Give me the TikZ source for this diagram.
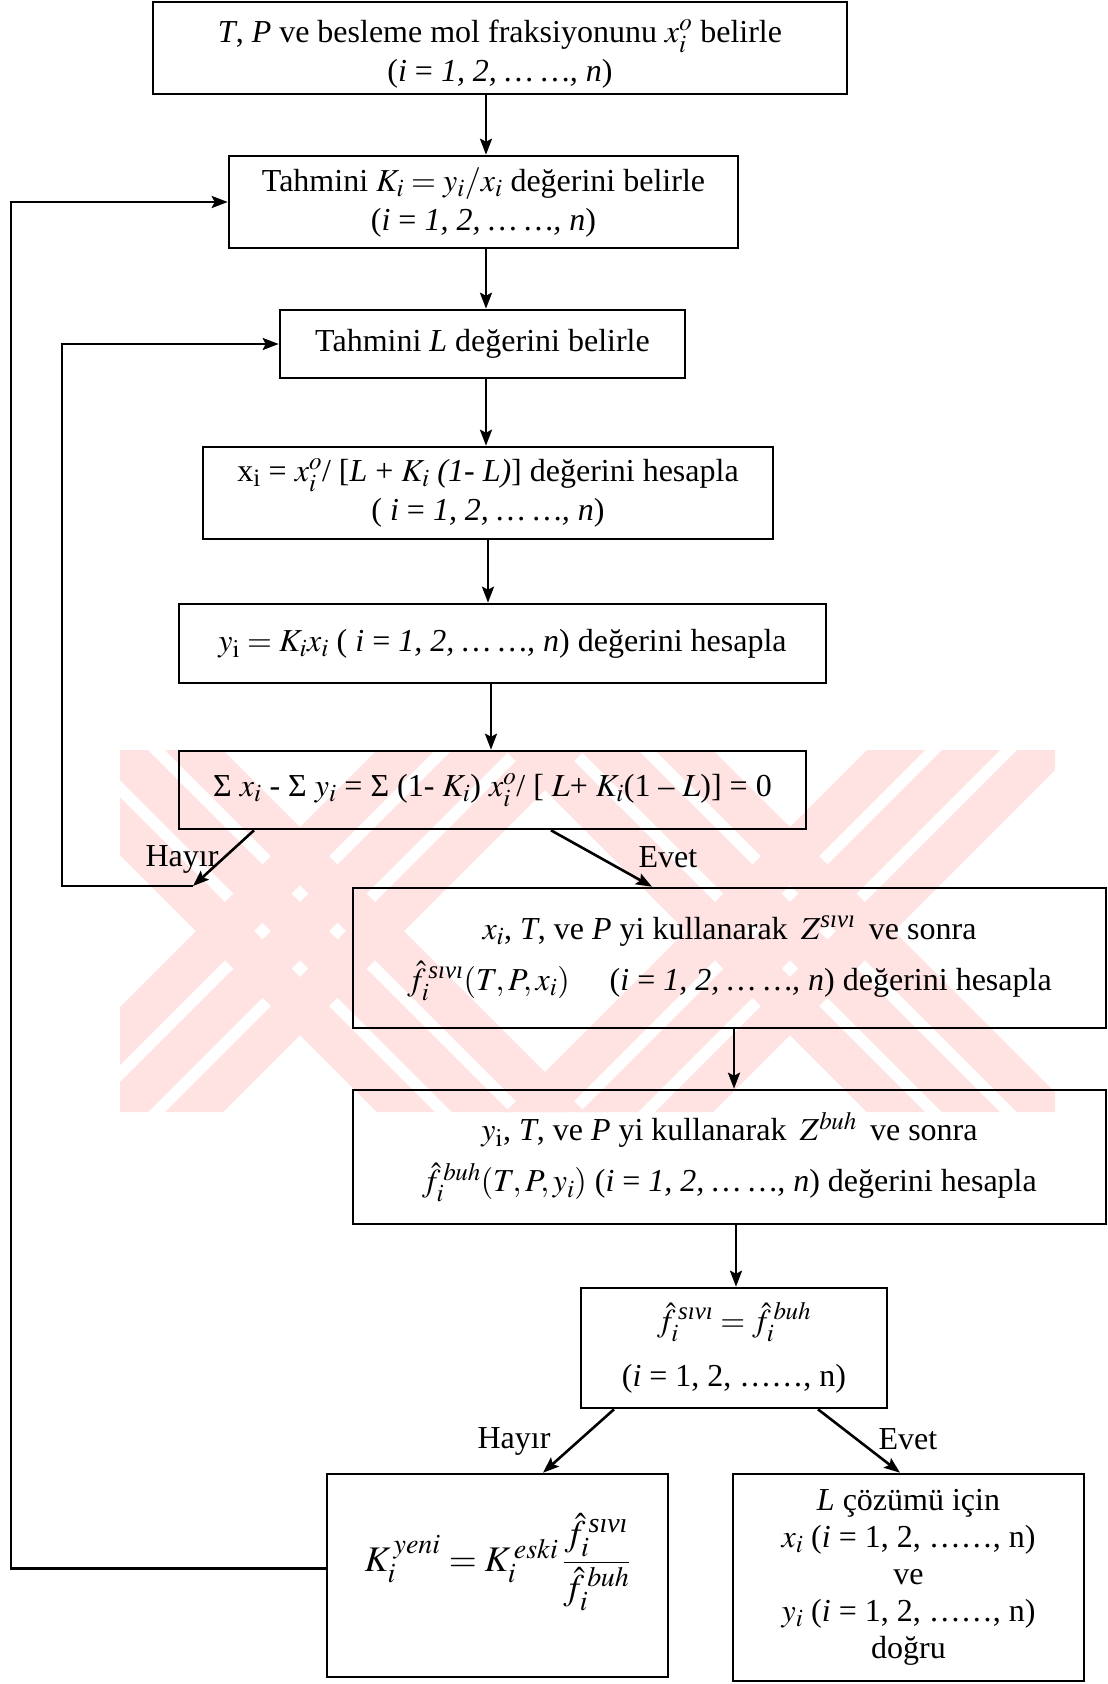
\documentclass[tikz,border=0pt]{standalone}
\usepackage{amsmath}
\usepackage{mathptmx}
\usepackage{fontspec}
\setmainfont{Liberation Serif}
\DeclareMathSizes{32}{32}{25}{19}
\DeclareMathSizes{36}{36}{28}{21}
\usetikzlibrary{arrows.meta}
\tikzset{
  box/.style={draw, line width=2.6pt, inner sep=4pt, align=center, font=\fontsize{32}{39}\selectfont},
  arr/.style={line width=2.6pt, -{Stealth[length=16pt,width=12pt,inset=3pt]}},
  lbl/.style={font=\fontsize{32}{38}\selectfont, inner sep=0pt},
  wm/.style={fill=red!11, draw=none}
}
\newcommand{\sivi}{\text{\itshape sıvı}}
\begin{document}
\begin{tikzpicture}[x=1pt,y=-1pt]
\useasboundingbox (0,0) rectangle (1108,1684);
\fill[white] (0,0) rectangle (1108,1684);
% watermark
\begin{scope}
\clip (120,750) rectangle (1055,1112);
\foreach \cx in {300,790} {
  \foreach \o in {-75,0,75} {
    \fill[wm] (\cx+\o-210,750) -- (\cx+\o-152,750) -- (\cx+\o+210,1112) -- (\cx+\o+152,1112) -- cycle;
    \fill[wm] (\cx+\o+210,750) -- (\cx+\o+152,750) -- (\cx+\o-210,1112) -- (\cx+\o-152,1112) -- cycle;
  }
}
\end{scope}
% boxes
\node[box, minimum width=694pt, minimum height=92pt] (b1) at (500,48)
  {\rule{0pt}{34pt}\textit{T}, \textit{P} ve besleme mol fraksiyonunu $x_i^{o}$ belirle\\(\textit{i} = \textit{1, 2, … …, n})};
\node[box, minimum width=509pt, minimum height=92pt] (b2) at (483.5,202)
  {Tahmini $K_i = y_i/x_i$ değerini belirle\\(\textit{i} = \textit{1, 2, … …, n})};
\node[box, minimum width=405pt, minimum height=68pt] (b3) at (482.5,344)
  {Tahmini \textit{L} değerini belirle};
\node[box, minimum width=570pt, minimum height=92pt] (b4) at (488,493)
  {x\textsubscript{i} = $x_i^{o}$/ [\textit{L} + $K_i$ \textit{(1- L)}] değerini hesapla\\( \textit{i} = \textit{1, 2, … …, n})};
\node[box, minimum width=647pt, minimum height=79pt] (b5) at (502.5,643.5)
  {$y_{\mathrm{i}} = K_i x_i$ ( \textit{i} = \textit{1, 2, … …, n}) değerini hesapla};
\node[box, minimum width=627pt, minimum height=78pt] (b6) at (492.5,790)
  {Σ $x_i$ - Σ $y_i$ = Σ (1- $K_i$) $x_i^{o}$/ [ $L$+ $K_i$(1 – $L$)] = 0};
\node[box, minimum width=753pt, minimum height=140pt] (b7) at (729.5,958)
  {$x_i$, \textit{T}, ve \textit{P} yi kullanarak \,$Z^{\sivi}$\, ve sonra\\[12pt]
   $\hat{f}_i^{\,\sivi}(T,P,x_i)$ \quad (\textit{i} = \textit{1, 2, … …, n}) değerini hesapla};
\node[box, minimum width=753pt, minimum height=134pt] (b8) at (729.5,1157)
  {$y_{\mathrm{i}}$, \textit{T}, ve \textit{P} yi kullanarak \,$Z^{buh}$\, ve sonra\\[12pt]
   $\hat{f}_i^{\,buh}(T,P,y_i)$ (\textit{i} = \textit{1, 2, … …, n}) değerini hesapla};
\node[box, minimum width=306pt, minimum height=120pt] (b9) at (734,1348)
  {$\hat{f}_i^{\,\sivi} = \hat{f}_i^{\,buh}$\\[16pt](\textit{i} = 1, 2, ……, n)};
\node[box, minimum width=341pt, minimum height=203pt, font=\fontsize{36}{42}\selectfont] (b10) at (497.5,1575.5)
  {$K_i^{\,yeni} = K_i^{\,eski}\,\dfrac{\hat{f}_i^{\,\sivi}}{\hat{f}_i^{\,buh}}$\\[24pt]};
\node[box, minimum width=351pt, minimum height=207pt, font=\fontsize{32}{37}\selectfont] (b11) at (908.5,1577.5)
  {\textit{L} çözümü için\\$x_i$ (\textit{i} = 1, 2, ……, n)\\ve\\$y_i$ (\textit{i} = 1, 2, ……, n)\\doğru};
% helper coordinates
\coordinate (xa) at (486,0);
\coordinate (xb) at (488,0);
\coordinate (xc) at (491,0);
\coordinate (xd) at (734,0);
\coordinate (xe) at (736,0);
\coordinate (h1s) at (254,0);
\coordinate (h1e) at (193,886);
\coordinate (lx) at (62,886);
\coordinate (e1s) at (551,0);
\coordinate (e1e) at (652,0);
\coordinate (h2s) at (614,0);
\coordinate (h2e) at (543,0);
\coordinate (e2s) at (818,0);
\coordinate (e2e) at (900,0);
\coordinate (L0) at (11,0);
% connectors
\draw[arr] (b1.south -| xa) -- (b2.north -| xa);
\draw[arr] (b2.south -| xa) -- (b3.north -| xa);
\draw[arr] (b3.south -| xa) -- (b4.north -| xa);
\draw[arr] (b4.south -| xb) -- (b5.north -| xb);
\draw[arr] (b5.south -| xc) -- (b6.north -| xc);
\draw[arr] (b6.south -| h1s) -- (h1e);
\draw[arr] (h1e) -- (lx) |- (b3.west);
\draw[arr] (b6.south -| e1s) -- (b7.north -| e1e);
\draw[arr] (b7.south -| xd) -- (b8.north -| xd);
\draw[arr] (b8.south -| xe) -- (b9.north -| xe);
\draw[arr] (b9.south -| h2s) -- (b10.north -| h2e);
\draw[arr] (b9.south -| e2s) -- (b11.north -| e2e);
\draw[arr] ([yshift=7pt]b10.west) -| (L0 |- b2.west) -- (b2.west);
% labels
\node[lbl] (t1) at (182,859) {Hayır};
\node[lbl] (t2) at (668,857) {Evet};
\node[lbl] (t3) at (514,1441) {Hayır};
\node[lbl] (t4) at (908,1439) {Evet};
\end{tikzpicture}
\end{document}
